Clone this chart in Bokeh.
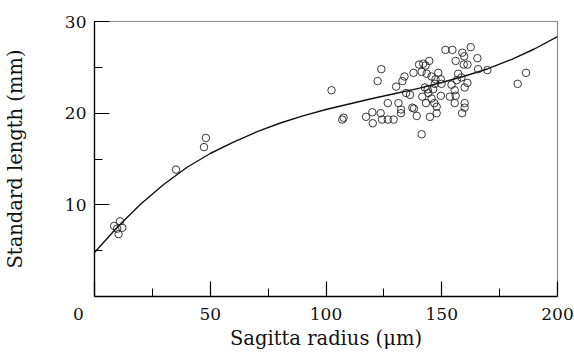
from bokeh.plotting import figure
from bokeh.models import Range1d, FixedTicker
from bokeh.embed import file_html
from bokeh.resources import INLINE

# Scatter data: sagitta radius (um) vs standard length (mm)
radius = [8.5, 9.8, 11.0, 12.0, 10.4,
          35.2, 47.3, 48.1,
          102.4, 107.0, 107.6, 123.9, 122.3, 117.3, 120.0, 120.2, 123.6, 124.2,
          126.7, 129.2, 126.7, 130.3, 131.3, 132.4, 132.4, 133.0, 133.9, 134.6,
          136.3, 137.3, 138.0, 139.2, 137.8, 140.2, 141.3, 142.0, 143.0, 144.6,
          143.5, 145.6, 148.5, 147.3, 149.6, 147.0, 149.9, 142.7, 143.9, 146.3,
          144.2, 141.6, 145.6, 143.2, 146.8, 147.8, 147.8, 144.9, 141.3, 149.6,
          151.6, 154.6, 158.9, 159.7, 162.5, 156.0, 159.5, 161.1, 165.4, 165.7,
          169.7, 157.1, 158.5, 156.5, 154.2, 161.1, 159.9, 155.6, 153.5, 156.0,
          155.6, 159.9, 159.9, 158.8, 182.8, 186.4]
length = [7.7, 7.4, 8.2, 7.5, 6.8,
          13.85, 16.3, 17.3,
          22.5, 19.3, 19.5, 24.8, 23.5, 19.6, 20.1, 18.9, 20.0, 19.3,
          19.3, 19.3, 21.1, 22.9, 21.1, 20.4, 20.0, 23.5, 24.0, 22.2,
          22.0, 20.6, 20.5, 19.7, 24.4, 25.3, 24.5, 25.4, 25.2, 25.7,
          24.3, 24.0, 24.4, 23.7, 23.7, 23.2, 23.2, 22.8, 22.6, 22.6,
          22.2, 21.8, 21.6, 21.1, 21.1, 20.7, 20.0, 19.6, 17.7, 21.9,
          26.9, 26.9, 26.6, 26.2, 27.2, 25.7, 25.3, 25.3, 26.0, 24.8,
          24.7, 24.3, 23.9, 23.6, 23.1, 23.3, 22.8, 22.5, 21.8, 21.9,
          21.1, 21.1, 20.6, 20.0, 23.2, 24.4]

# Fitted curve
curve_x = [0, 10, 20, 30, 40, 50, 60, 70, 80, 90, 100,
           110, 120, 130, 140, 150, 160, 170, 180, 190, 200]
curve_y = [4.8, 7.6, 10.1, 12.25, 14.1, 15.6, 16.85, 17.95, 18.9, 19.7, 20.4,
           21.0, 21.6, 22.15, 22.7, 23.35, 24.05, 24.85, 25.85, 27.0, 28.35]

x_major = [0, 50, 100, 150, 200]
x_minor = [25, 75, 125, 175]
x_labels = {0: "0" + "\u00a0" * 6, 50: "50", 100: "100", 150: "150", 200: "200"}
y_major = [10, 20, 30]
y_minor = [5, 15, 25]

FONT = "DejaVu Serif"

p = figure(width=574, height=353, output_backend="svg", toolbar_location=None,
           x_range=Range1d(0, 200), y_range=Range1d(0, 30),
           min_border_left=91, min_border_right=17, min_border_top=21, min_border_bottom=57)
p.xgrid.visible = False
p.ygrid.visible = False
p.outline_line_color = "#8c8c8c"
p.outline_line_width = 1.2
p.background_fill_color = "white"

p.line(curve_x, curve_y, line_color="#111111", line_width=1.4)
p.scatter(radius, length, size=7.5, marker="circle", fill_alpha=0,
          line_color="#222222", line_width=0.9)

for ax in (p.xaxis[0], p.yaxis[0]):
    ax.axis_line_color = "black"
    ax.axis_line_width = 1.3
    ax.major_tick_in = 15
    ax.major_tick_out = 0
    ax.minor_tick_in = 8
    ax.minor_tick_out = 0
    ax.major_tick_line_color = "black"
    ax.minor_tick_line_color = "black"
    ax.major_tick_line_width = 1.2
    ax.minor_tick_line_width = 1.0
    ax.major_label_text_font = FONT
    ax.major_label_text_font_size = "17px"
    ax.major_label_text_color = "#111111"
    ax.axis_label_text_font = FONT
    ax.axis_label_text_font_size = "19.5px"
    ax.axis_label_text_font_style = "normal"
    ax.axis_label_text_color = "#111111"

p.xaxis[0].ticker = FixedTicker(ticks=x_major, minor_ticks=x_minor)
p.yaxis[0].ticker = FixedTicker(ticks=y_major, minor_ticks=y_minor)
p.xaxis[0].major_label_overrides = x_labels
p.xaxis[0].axis_label = "Sagitta radius (μm)"
p.yaxis[0].axis_label = "Standard length (mm)"
p.xaxis[0].major_label_standoff = 7
p.xaxis[0].axis_label_standoff = 0
p.yaxis[0].major_label_standoff = 8
p.yaxis[0].axis_label_standoff = 35

open("out.html", "w").write(file_html(p, INLINE))
